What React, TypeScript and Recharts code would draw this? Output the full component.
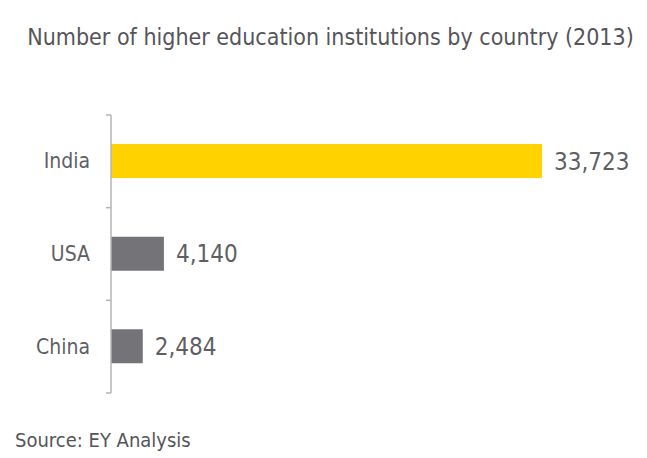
import { BarChart, Bar, XAxis, YAxis, LabelList, Cell } from "recharts";

const countries = ["India", "USA", "China"];
const institutions = [33723, 4140, 2484];
const barColors = ["#ffd200", "#747478", "#747478"];

const chartTitle = "Number of higher education institutions by country (2013)";
const sourceNote = "Source: EY Analysis";

const data = countries.map((country, i) => ({ country, value: institutions[i] }));

const FONT = '"DejaVu Sans Condensed", "Liberation Sans Narrow", "Open Sans", sans-serif';
const TEXT = "#5f5f63";

const WIDTH = 647;
const HEIGHT = 458;
const MARGIN = { top: 115, right: 105, bottom: 65, left: 0 };
const AXIS_W = 111;
const band = (HEIGHT - MARGIN.top - MARGIN.bottom) / countries.length;

function CountryTick(props: any) {
  const { x, y, payload, index } = props;
  const half = band / 2;
  return (
    <g>
      <line x1={x - 5} x2={x} y1={y - half} y2={y - half} stroke="#b4b4b8" strokeWidth={1.5} />
      {index === countries.length - 1 && (
        <line x1={x - 5} x2={x} y1={y + half} y2={y + half} stroke="#b4b4b8" strokeWidth={1.5} />
      )}
      <text x={x - 21} y={y} dy={7} textAnchor="end" fill={TEXT} fontSize={21} fontFamily={FONT}>
        {payload.value}
      </text>
    </g>
  );
}

export default function App() {
  return (
    <div style={{ position: "absolute", left: 0, top: 0, width: WIDTH, height: HEIGHT, background: "#fff" }}>
      <div
        style={{
          position: "absolute",
          top: 23,
          left: 0,
          width: WIDTH + 14,
          textAlign: "center",
          fontFamily: FONT,
          fontSize: 23,
          lineHeight: "28px",
          color: "#555559",
          whiteSpace: "nowrap",
        }}
      >
        {chartTitle}
      </div>
      <BarChart width={WIDTH} height={HEIGHT} data={data} layout="vertical" margin={MARGIN}>
        <XAxis type="number" domain={[0, "dataMax"]} hide />
        <YAxis
          type="category"
          dataKey="country"
          width={AXIS_W}
          axisLine={{ stroke: "#b4b4b8", strokeWidth: 1.5 }}
          tickLine={false}
          tickSize={0}
          tickMargin={0}
          tick={<CountryTick />}
        />
        <Bar dataKey="value" barSize={34} isAnimationActive={false}>
          {data.map((d, i) => (
            <Cell key={d.country} fill={barColors[i]} />
          ))}
          <LabelList
            dataKey="value"
            position="right"
            offset={12}
            formatter={(v: any) => Number(v).toLocaleString("en-US")}
            fill={TEXT}
            fontSize={24}
            fontFamily={FONT}
          />
        </Bar>
      </BarChart>
      <div
        style={{
          position: "absolute",
          top: 428,
          left: 15,
          fontFamily: FONT,
          fontSize: 20,
          lineHeight: "24px",
          color: "#555559",
          whiteSpace: "nowrap",
        }}
      >
        {sourceNote}
      </div>
    </div>
  );
}
